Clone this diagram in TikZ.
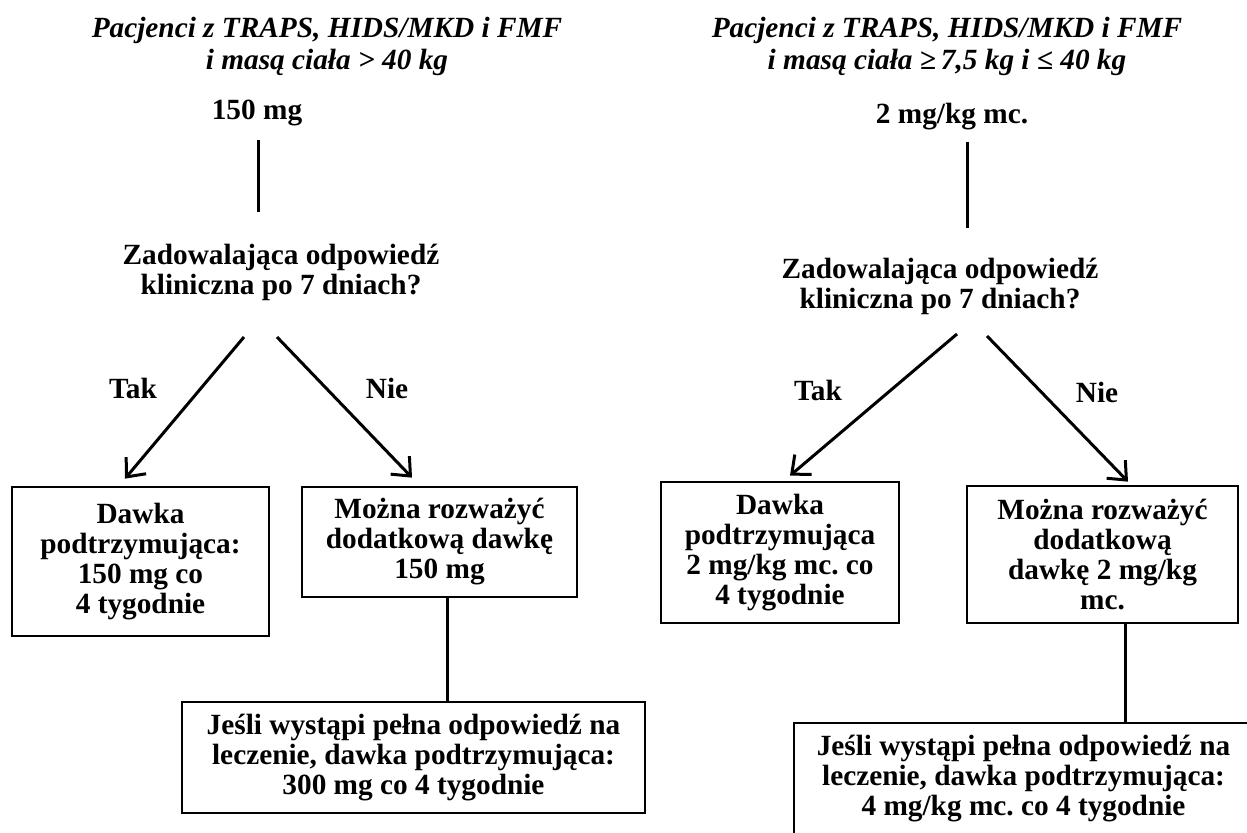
\documentclass[tikz,border=0pt]{standalone}
\usepackage{fontspec}
\setmainfont{Liberation Serif}
\usetikzlibrary{arrows.meta}
\frenchspacing

\begin{document}
\begin{tikzpicture}[x=0.5pt,y=-0.5pt,
  txt/.style={font=\fontsize{14.65pt}{15pt}\selectfont\bfseries,align=center,inner sep=0pt},
  ttl/.style={txt,font=\fontsize{14.65pt}{16pt}\selectfont\bfseries\itshape},
  box/.style={txt,draw,line width=1.35pt},
  ln/.style={line width=1.5pt},
  arr/.style={ln,-{Straight Barb[length=7.5pt,width=13pt]}}]
\useasboundingbox (0,0) rectangle (1247,833);

% left: > 40 kg
\node[ttl] (titleA) at (327,46) {Pacjenci z TRAPS, HIDS/MKD i FMF\\i masą ciała > 40 kg};
\node[txt] (doseA) at (257,113) {150 mg};
\node[txt] (askA) at (281,272) {Zadowalająca odpowiedź\\kliniczna po 7 dniach?};
\node[txt] (takA) at (133,388) {Tak};
\node[txt] (nieA) at (387,388) {Nie};
\node[box,minimum width=128.5pt,minimum height=74.5pt] (keepA) at (140.5,561.5) {Dawka\\podtrzymująca:\\150 mg co\\4 tygodnie};
\node[box,minimum width=137.5pt,minimum height=55pt] (moreA) at (439.5,542) {Można rozważyć\\dodatkową dawkę\\150 mg};
\node[box,minimum width=231.5pt,minimum height=55.5pt] (fullA) at (413.5,757.5) {Jeśli wystąpi pełna odpowiedź na\\leczenie, dawka podtrzymująca:\\300 mg co 4 tygodnie};

\draw[ln] ([shift={(1,27)}]doseA.center) -- ([shift={(-23,-60)}]askA.center);
\draw[arr] ([shift={(-37,65)}]askA.center) -- ([shift={(-15.5,-7)}]keepA.north);
\draw[arr] ([shift={(-4,65)}]askA.center) -- ([shift={(-27.5,-8)}]moreA.north);
\draw[ln] ([shift={(7.5,0)}]moreA.south) -- ([shift={(33.5,0)}]fullA.north);

% right: 7,5 - 40 kg
\node[ttl] (titleB) at (947,46) {Pacjenci z TRAPS, HIDS/MKD i FMF\\i masą ciała ≥\,7,5 kg i ≤ 40 kg};
\node[txt] (doseB) at (952,117) {2 mg/kg mc.};
\node[txt] (askB) at (940,286) {Zadowalająca odpowiedź\\kliniczna po 7 dniach?};
\node[txt] (takB) at (818,390) {Tak};
\node[txt] (nieB) at (1097,392) {Nie};
\node[box,minimum width=119pt,minimum height=70.5pt] (keepB) at (780,552.5) {Dawka\\podtrzymująca\\2 mg/kg mc. co\\4 tygodnie};
\node[box,minimum width=135.5pt,minimum height=68.5pt] (moreB) at (1102.5,554.5) {Można rozważyć\\dodatkową\\dawkę 2 mg/kg\\mc.};
\node[box,minimum width=229.5pt,minimum height=55.5pt] (fullB) at (1023.5,778.5) {Jeśli wystąpi pełna odpowiedź na\\leczenie, dawka podtrzymująca:\\4 mg/kg mc. co 4 tygodnie};

\draw[ln] ([shift={(15,25)}]doseB.center) -- ([shift={(27,-58)}]askB.center);
\draw[arr] ([shift={(17,48)}]askB.center) -- ([shift={(10,-5)}]keepB.north);
\draw[arr] ([shift={(47,50)}]askB.center) -- ([shift={(25.5,-3)}]moreB.north);
\draw[ln] ([shift={(22.5,0)}]moreB.south) -- ([shift={(101.5,0)}]fullB.north);
\end{tikzpicture}
\end{document}
